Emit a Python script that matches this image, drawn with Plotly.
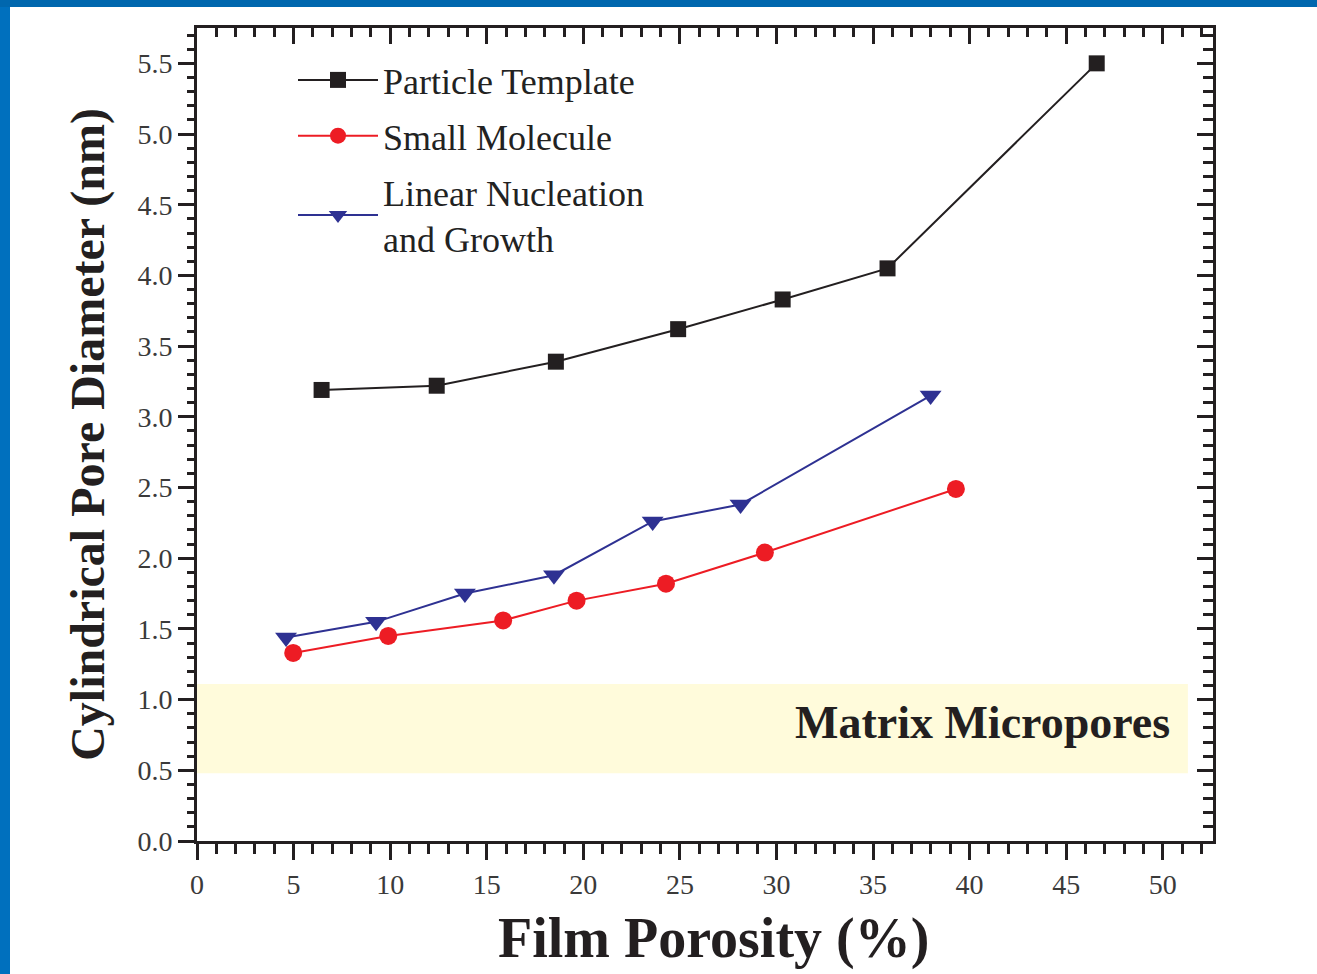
import plotly.graph_objects as go

# ---------------- data ----------------
porosity_particle = [6.45, 12.41, 18.58, 24.91, 30.32, 35.75, 46.58]
diameter_particle = [3.19, 3.22, 3.39, 3.62, 3.83, 4.05, 5.50]

porosity_small = [4.98, 9.90, 15.85, 19.65, 24.28, 29.40, 39.29]
diameter_small = [1.33, 1.45, 1.56, 1.70, 1.82, 2.04, 2.49]

porosity_linear = [4.61, 9.27, 13.87, 18.48, 23.59, 28.14, 37.98]
diameter_linear = [1.44, 1.55, 1.75, 1.88, 2.26, 2.38, 3.15]

series_names = ["Particle Template", "Small Molecule", "Linear Nucleation<br>and Growth"]

x_tick_values = [0, 5, 10, 15, 20, 25, 30, 35, 40, 45, 50]
y_tick_values = [0.0, 0.5, 1.0, 1.5, 2.0, 2.5, 3.0, 3.5, 4.0, 4.5, 5.0, 5.5]

micropore_range = [0.48, 1.11]
micropore_label = "Matrix Micropores"

# ---------------- style ----------------
W, H = 1317, 974
L, R, T, B = 197, 1213, 28, 841
X_RANGE = [0, 52.6]
Y_RANGE = [0, 5.75]
INK = "#231F20"
RED = "#ED1C24"
BLUE = "#2E3192"
FONT = "Liberation Serif, Times New Roman, serif"
BAND_X = [0, 51.3]


def px_x(p):
    return (p - L) / (R - L)


def px_y(p):
    return (B - p) / (B - T)


fig = go.Figure()

fig.add_trace(go.Scatter(
    x=porosity_particle, y=diameter_particle, name=series_names[0],
    mode="lines+markers", legendgroup="a",
    line=dict(color=INK, width=2),
    marker=dict(symbol="square", size=16, color=INK),
))
fig.add_trace(go.Scatter(
    x=porosity_small, y=diameter_small, name=series_names[1],
    mode="lines+markers", legendgroup="b",
    line=dict(color=RED, width=2),
    marker=dict(symbol="circle", size=18, color=RED),
))
fig.add_trace(go.Scatter(
    x=porosity_linear, y=diameter_linear, name=series_names[2],
    mode="lines+markers", legendgroup="c",
    line=dict(color=BLUE, width=2),
    marker=dict(symbol="triangle-down", size=19, color=BLUE),
))
# invisible helper trace so the mirrored (top / right) axes get drawn
fig.add_trace(go.Scatter(
    x=porosity_particle, y=diameter_particle, xaxis="x2", yaxis="y2",
    mode="markers", marker=dict(opacity=0, size=1), showlegend=False,
    hoverinfo="skip",
))

axis_common = dict(
    showline=True, linecolor=INK, linewidth=3,
    ticklen=16, tickwidth=3, tickcolor=INK,
    showgrid=False, zeroline=False,
)

fig.update_layout(
    width=W, height=H,
    margin=dict(l=L, r=W - R, t=T, b=H - B, pad=0),
    paper_bgcolor="white", plot_bgcolor="white",
    font=dict(family=FONT, color="#333333", size=28),
    xaxis=dict(
        range=X_RANGE, tickvals=x_tick_values, ticks="outside",
        minor=dict(ticks="outside", dtick=1, ticklen=10, tickwidth=3, tickcolor=INK),
        tickfont=dict(family=FONT, size=28, color="#3a3a3a"),
        **axis_common,
    ),
    yaxis=dict(
        range=Y_RANGE, tickvals=y_tick_values, ticks="outside", tickformat=".1f",
        minor=dict(ticks="outside", dtick=0.1, ticklen=7, tickwidth=3, tickcolor=INK),
        tickfont=dict(family=FONT, size=28, color="#3a3a3a"),
        title=dict(text="<b>Cylindrical Pore Diameter (nm)</b>", standoff=18,
                   font=dict(family=FONT, size=48, color=INK)),
        **axis_common,
    ),
    xaxis2=dict(
        overlaying="x", side="top", anchor="y2",
        range=X_RANGE, tickvals=x_tick_values, ticks="inside", showticklabels=False,
        minor=dict(ticks="inside", dtick=1, ticklen=9, tickwidth=3, tickcolor=INK),
        **axis_common,
    ),
    yaxis2=dict(
        overlaying="y", side="right", anchor="x2",
        range=Y_RANGE, tickvals=y_tick_values, ticks="inside", showticklabels=False,
        minor=dict(ticks="inside", dtick=0.1, ticklen=10, tickwidth=3, tickcolor=INK),
        **axis_common,
    ),
    legend=dict(
        x=px_x(293), y=px_y(50), xanchor="left", yanchor="top",
        bgcolor="rgba(0,0,0,0)", borderwidth=0,
        font=dict(family=FONT, size=36, color="#222222"),
        tracegroupgap=6, itemwidth=80,
    ),
    showlegend=True,
)

# x-axis title placed as a centred text below the axis
fig.add_annotation(xref="paper", yref="paper", x=px_x(713), y=px_y(938),
                   xanchor="center", yanchor="middle", showarrow=False,
                   text="<b>Film Porosity (%)</b>",
                   font=dict(family=FONT, size=56, color=INK))

# micropore band
fig.add_shape(type="rect", xref="x", yref="y", layer="below",
              x0=BAND_X[0], x1=BAND_X[1], y0=micropore_range[0], y1=micropore_range[1],
              fillcolor="#FFFBDB", line=dict(width=0))
fig.add_annotation(xref="x", yref="y", x=50.5, y=0.835,
                   xanchor="right", yanchor="middle", showarrow=False,
                   text="<b>" + micropore_label + "</b>",
                   font=dict(family=FONT, size=46, color=INK))

# blue frame of the slide
fig.add_shape(type="rect", xref="paper", yref="paper", layer="above",
              x0=px_x(0), x1=px_x(10), y0=px_y(H), y1=px_y(0),
              fillcolor="#0070BE", line=dict(width=0))
fig.add_shape(type="rect", xref="paper", yref="paper", layer="above",
              x0=px_x(0), x1=px_x(W), y0=px_y(7), y1=px_y(0),
              fillcolor="#0067AE", line=dict(width=0))

fig.write_html("out.html")
